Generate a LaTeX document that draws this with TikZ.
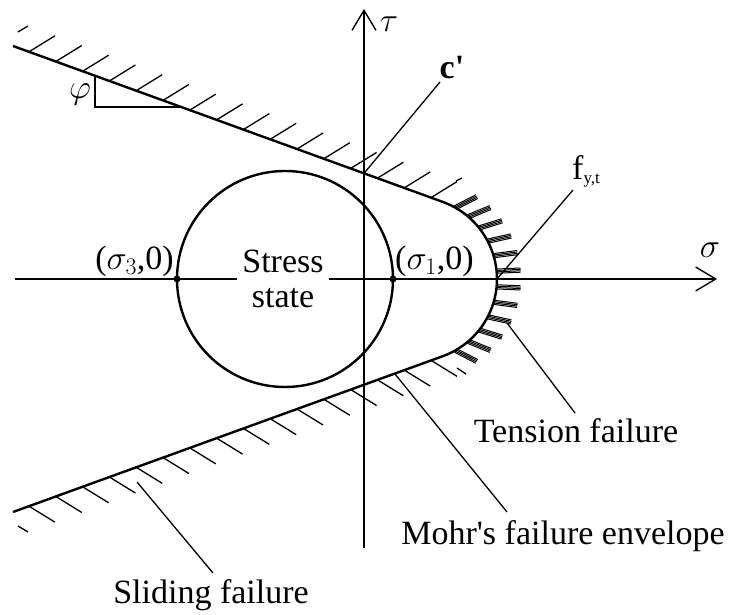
\RequirePackage{fix-cm}
\documentclass[tikz,border=0pt]{standalone}
\usepackage{fontspec}
\setmainfont{Liberation Serif}
\usetikzlibrary{arrows.meta,calc}

\begin{document}
\begin{tikzpicture}[x=1pt,y=1pt,
    axis/.style={line width=1.4pt,-{Straight Barb[length=20pt,width=24pt]}},
    envelope/.style={line width=2.4pt},
    hatch/.style={line width=1.3pt},
    bar/.style={line width=1pt},
    leader/.style={line width=1.3pt},
    lbl/.style={font=\fontsize{34}{35}\selectfont, inner sep=1pt}]
    \useasboundingbox (0,0) rectangle (734,615);

    % Draw axes
    \draw[axis] (15,336) -- (717,336);
    \draw[axis] (364,67) -- (364,606);
    \node[lbl, anchor=north] (tau) at (389,599) {$\tau$};
    \node[lbl] (sig) at (710,365) {$\sigma$};

    % Mohr circle of the stress state
    \coordinate (c0) at (285,336);
    \coordinate (s3) at (177,336);
    \coordinate (s1) at (393,336);
    \draw[envelope] (c0) circle (108pt);
    \node[lbl, fill=white, align=center, inner sep=5pt] (stress) at (283,336) {Stress\\state};
    \fill (s3) circle (3.5pt);
    \fill (s1) circle (3.5pt);
    \node[lbl, anchor=south east] (s3lab) at ([xshift=-2pt,yshift=1pt]s3) {(\(\sigma_3\),0)};
    \node[lbl, anchor=south west] (s1lab) at ([xshift=1pt,yshift=1pt]s1) {(\(\sigma_1\),0)};

    % Mohr's failure envelope
    \coordinate (ua) at (13,569);
    \coordinate (ut) at (443,413);
    \coordinate (la) at (13,103);
    \coordinate (lt) at (443,259);
    \coordinate (ac) at (415,336);
    \draw[envelope] (ua) -- (ut) arc[start angle=70, end angle=-70, radius=82pt] -- (la);

    % Hatching of the sliding failure lines
    \foreach \i in {0,...,15} {
        \pgfmathsetmacro{\pos}{(16+26.8*\i)/430}
        \draw[hatch] ($(ua)!\pos!(ut)$) -- ++(26,16);
        \draw[hatch] ($(la)!\pos!(lt)$) -- ++(26,-16);
    }
    \draw[hatch] (18,583) -- (28,589);
    \draw[hatch] (18,89) -- (28,83);
    \draw[hatch] (456,434) -- (462,437);
    \draw[hatch] (457,247) -- (466,241);

    % Bars of the tension cut-off
    \foreach \a in {60.5,49.5,38.5,27.5,16.5,5.5,-5.5,-16.5,-27.5,-38.5,-49.5,-60.5} {
        \pgfmathsetmacro{\ba}{0.45*\a}
        \pgfmathsetmacro{\bn}{0.45*\a+90}
        \foreach \k in {-2.1,-0.7,0.7,2.1} {
            \draw[bar] ($(ac)+(\a:82pt)+(\bn:\k pt)$) -- ++(\ba:24pt);
        }
    }

    % Friction angle
    \draw[hatch] (95,539) -- (95,508) -- (182,508);
    \node[lbl] (phi) at (80,521) {$\varphi$};

    % Labels with leaders
    \coordinate (cint) at (364,441.6);
    \coordinate (cfoot) at (440,533);
    \node[lbl] (clab) at (452,547) {\textbf{c\textquotesingle}};
    \draw[leader] (cfoot) -- (cint);

    \coordinate (fpt) at (497,336);
    \coordinate (ffoot) at (573,425);
    \node[lbl, anchor=base west] (fyt) at (571,435) {f\raisebox{-4pt}{\fontsize{17}{17}\selectfont y,t}};
    \draw[leader] (ffoot) -- (fpt);

    \coordinate (tpt) at (507,292);
    \coordinate (tfoot) at (575,202);
    \node[lbl, anchor=base] (tens) at (576,172) {Tension failure};
    \draw[leader] (tpt) -- (tfoot);

    \coordinate (mpt) at (395,241);
    \coordinate (mfoot) at (507,103);
    \node[lbl, anchor=base] (mohr) at (563,70) {Mohr\textquotesingle s failure envelope};
    \draw[leader] (mpt) -- (mfoot);

    \coordinate (spt) at (137,133);
    \coordinate (sfoot) at (213,42);
    \node[lbl, anchor=base] (slid) at (211,11) {Sliding failure};
    \draw[leader] (spt) -- (sfoot);
\end{tikzpicture}
\end{document}
